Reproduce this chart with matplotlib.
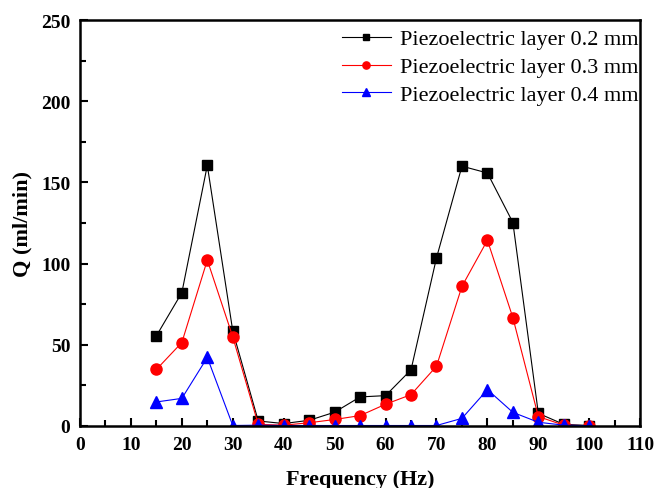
import matplotlib
matplotlib.use("Agg")
import matplotlib.pyplot as plt
from matplotlib.ticker import MultipleLocator

freq = [15, 20, 25, 30, 35, 40, 45, 50, 55, 60, 65, 70, 75, 80, 85, 90, 95, 100]
q_02 = [55.5, 82.1, 160.5, 58.5, 3.1, 1.5, 3.5, 8.5, 17.9, 18.7, 34.6, 103.5, 160.0, 155.8, 125.3, 7.8, 1.0, 0.3]
q_03 = [34.8, 51.4, 102.2, 54.9, 1.0, 0.5, 2.0, 4.0, 6.4, 13.4, 19.3, 36.8, 86.0, 114.4, 66.7, 5.8, 0.5, 0.2]
q_04 = [14.8, 17.0, 42.2, 0.3, 0.5, 0.3, 0.3, 0.3, 0.3, 0.3, 0.3, 0.3, 4.7, 22.4, 8.4, 2.3, 0.5, 0.2]

labels = ["Piezoelectric layer 0.2 mm",
          "Piezoelectric layer 0.3 mm",
          "Piezoelectric layer 0.4 mm"]

plt.rcParams["font.family"] = ["Liberation Serif", "DejaVu Serif"]

fig = plt.figure(figsize=(6.54, 4.89), dpi=100)
ax = fig.add_axes([0.1223, 0.1268, 0.8566, 0.8302])

ax.plot(freq, q_02, color="black", lw=0.8, marker="s", ms=7.5, label=labels[0])
ax.plot(freq, q_03, color="red", lw=0.8, marker="o", ms=8, label=labels[1])
ax.plot(freq, q_04, color="blue", lw=0.8, marker="^", ms=9, label=labels[2])

ax.set_xlim(0, 110)
ax.set_ylim(0, 250)
ax.xaxis.set_major_locator(MultipleLocator(10))
ax.xaxis.set_minor_locator(MultipleLocator(5))
ax.yaxis.set_major_locator(MultipleLocator(50))
ax.yaxis.set_minor_locator(MultipleLocator(25))

ax.tick_params(which="both", direction="in", top=False, right=False, width=1.5)
ax.tick_params(which="major", length=6, labelsize=14, pad=7)
ax.tick_params(which="minor", length=4)
for lbl in ax.get_xticklabels() + ax.get_yticklabels():
    lbl.set_fontweight("bold")
for sp in ax.spines.values():
    sp.set_linewidth(1.8)

ax.set_xlabel("Frequency (Hz)", fontsize=16, fontweight="bold", labelpad=12)
ax.set_ylabel("Q (ml/min)", fontsize=16, fontweight="bold", labelpad=6)

ax.legend(loc="upper right", bbox_to_anchor=(1.012, 1.0), frameon=False,
          fontsize=16, handlelength=2.2, borderaxespad=0.0, labelspacing=0.33,
          handletextpad=0.4, markerscale=0.65, borderpad=0.4)

fig.savefig("out.png", dpi=100)
